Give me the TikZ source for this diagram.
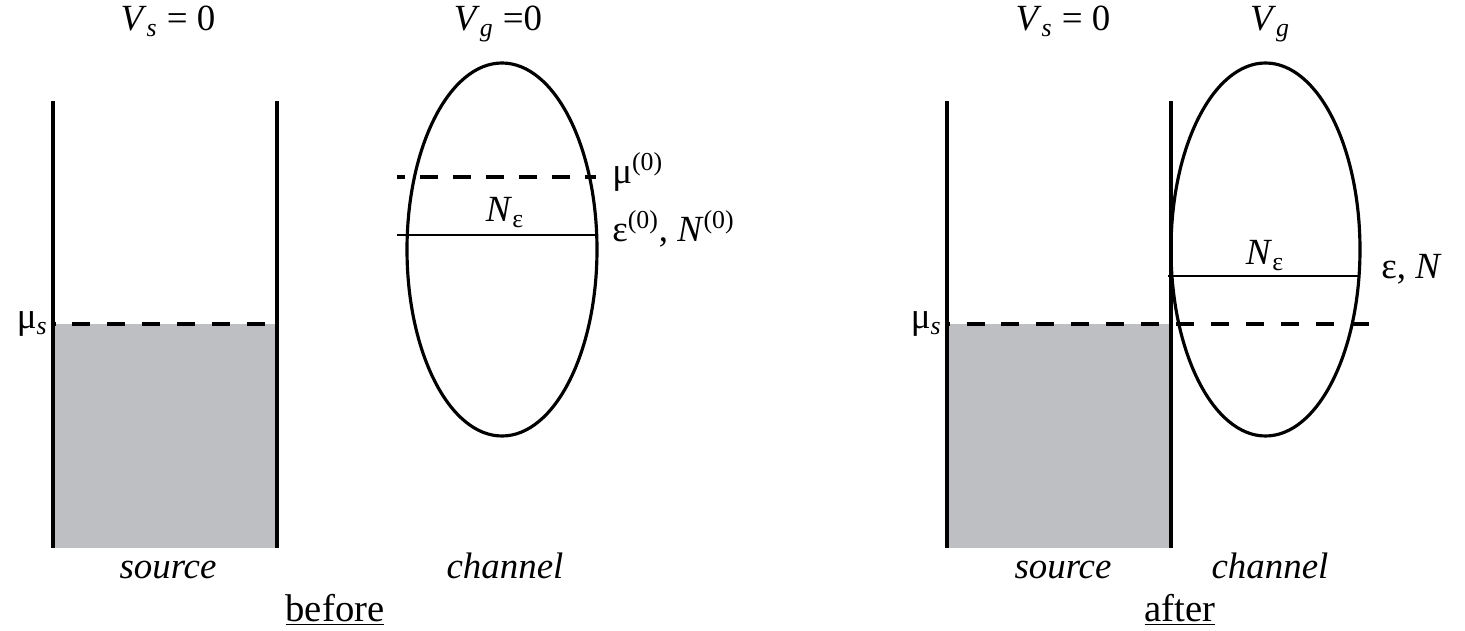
\documentclass[tikz,border=0pt]{standalone}
\usepackage{fontspec}
\setmainfont{Liberation Serif}
\usetikzlibrary{positioning}
\definecolor{wellgray}{RGB}{189,191,194}

\begin{document}
\begin{tikzpicture}[x=0.02cm, y=-0.02cm,
    wall/.style={line width=2pt},
    level/.style={line width=1.6pt},
    fermi/.style={line width=2pt, dash pattern=on 0.36cm off 0.34cm},
    lbl/.style={inner sep=0pt, anchor=base, font=\fontsize{21}{25}\selectfont},
    tag/.style={inner sep=0pt, anchor=base, font=\fontsize{22}{26}\selectfont}]
    \useasboundingbox (0,0) rectangle (1465,631);

    % source wells (filled up to mu_s), before and after
    \foreach \xo in {53,947}{
        \fill[wellgray] (\xo,324) rectangle (\xo+224,548);
        \draw[wall] (\xo,101) -- (\xo,548);
        \draw[wall] (\xo+224,101) -- (\xo+224,548);
    }
    \draw[fermi, dash phase=0.31cm] (53,324) -- (277,324);
    \draw[fermi, dash phase=0.31cm] (947,324) -- (1380,324);

    % channel before: ellipse with levels
    \draw[line width=1.8pt] (502,249.5) ellipse [x radius=95, y radius=186.5];
    \draw[fermi, dash pattern=on 0.36cm off 0.30cm, dash phase=0.2cm] (397,177) -- (596,177);
    \draw[level] (397,235) -- (597,235);

    % channel after: shifted down by V_g
    \draw[line width=1.8pt] (1265.5,249.5) ellipse [x radius=94.5, y radius=186.5];
    \draw[level] (1168,276) -- (1360,276);

    % labels, before
    \node[lbl] (vsb) at (168,31) {\textit{V}\textsubscript{\textit{s}} = 0};
    \node[lbl] (vgb) at (498,31) {\textit{V}\textsubscript{\textit{g}} =0};
    \node[lbl, anchor=base east] (musb) at (48,329) {μ\textsubscript{\textit{s}}};
    \node[lbl, anchor=base west] (mu0) at (612,184) {μ\textsuperscript{(0)}};
    \node[lbl, anchor=base west] (eps0) at (612,242) {ε\textsuperscript{(0)}, \textit{N}\textsuperscript{(0)}};
    \node[lbl] (neb) at (505,222) {\textit{N}\textsubscript{ε}};
    \node[lbl] (srcb) at (168,579) {\textit{source}};
    \node[lbl] (chb) at (505,579) {\textit{channel}};
    \node[tag] (before) at (335,622) {\underline{before}};

    % labels, after
    \node[lbl] (vsa) at (1063,31) {\textit{V}\textsubscript{\textit{s}} = 0};
    \node[lbl] (vga) at (1270,31) {\textit{V}\textsubscript{\textit{g}}};
    \node[lbl, anchor=base east] (musa) at (942,329) {μ\textsubscript{\textit{s}}};
    \node[lbl] (nea) at (1265,265) {\textit{N}\textsubscript{ε}};
    \node[lbl, anchor=base west] (epsa) at (1381,279) {ε, \textit{N}};
    \node[lbl] (srca) at (1063,579) {\textit{source}};
    \node[lbl] (cha) at (1270,579) {\textit{channel}};
    \node[tag] (after) at (1180,622) {\underline{after}};
\end{tikzpicture}
\end{document}
